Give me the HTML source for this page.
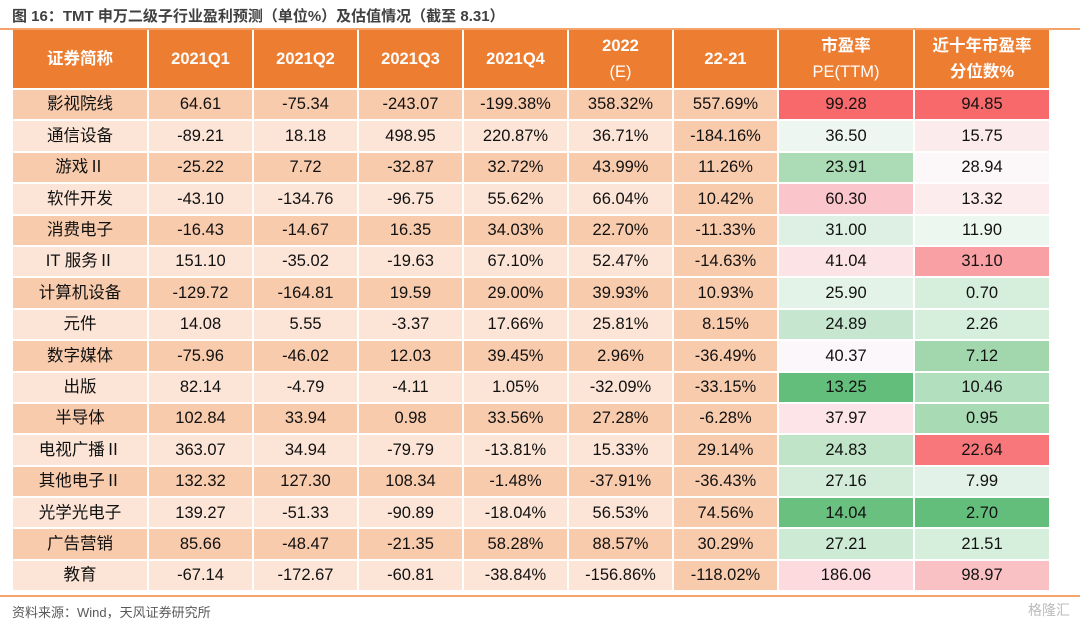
<!DOCTYPE html>
<html><head><meta charset="utf-8"><style>
body{margin:0;width:1080px;height:628px;background:#fff;overflow:hidden;font-family:"Liberation Sans","Noto Sans CJK SC",sans-serif;position:relative}
.title{position:absolute;left:12px;top:5px;font-size:15px;font-weight:bold;color:#404040}
.topline{position:absolute;left:0;top:28px;width:1080px;height:2px;background:#f4a46a}
.botline{position:absolute;left:0;top:595px;width:1080px;height:2px;background:#f4a46a}
.src{position:absolute;left:12px;top:602px;font-size:13px;color:#595959}
.wm{position:absolute;right:10px;top:600px;font-size:14px;color:#bbb}
#tbl{position:absolute;left:13px;top:30px;display:grid;grid-template-columns:134px repeat(6,103px) 134px 134px;grid-template-rows:58px repeat(16,29.4px);gap:2px;background:#fff}
.c{display:flex;align-items:center;justify-content:center;font-size:16.5px;color:#111;text-align:center;line-height:1}
.h{background:#ed7d31;color:#fff;font-weight:bold;font-size:16.5px;flex-direction:column;line-height:26px}
.h .n{font-weight:normal}
.d{background:#f8cbad}.l{background:#fce4d6}
</style></head><body>
<div class="title">图 16：TMT 申万二级子行业盈利预测（单位%）及估值情况（截至 8.31）</div>
<div class="topline"></div>
<div id="tbl">
<div class="c h">证券简称</div>
<div class="c h">2021Q1</div>
<div class="c h">2021Q2</div>
<div class="c h">2021Q3</div>
<div class="c h">2021Q4</div>
<div class="c h"><span>2022</span><span class="n">(E)</span></div>
<div class="c h">22-21</div>
<div class="c h"><span>市盈率</span><span class="n">PE(TTM)</span></div>
<div class="c h"><span>近十年市盈率</span><span>分位数%</span></div>
</div>
<div class="botline"></div>
<div class="src">资料来源：Wind，天风证券研究所</div>
<div class="wm">格隆汇</div>
<script>
const names=["影视院线","通信设备","游戏Ⅱ","软件开发","消费电子","IT 服务Ⅱ","计算机设备","元件","数字媒体","出版","半导体","电视广播Ⅱ","其他电子Ⅱ","光学光电子","广告营销","教育"];
const q1=["64.61","-89.21","-25.22","-43.10","-16.43","151.10","-129.72","14.08","-75.96","82.14","102.84","363.07","132.32","139.27","85.66","-67.14"];
const q2=["-75.34","18.18","7.72","-134.76","-14.67","-35.02","-164.81","5.55","-46.02","-4.79","33.94","34.94","127.30","-51.33","-48.47","-172.67"];
const q3=["-243.07","498.95","-32.87","-96.75","16.35","-19.63","19.59","-3.37","12.03","-4.11","0.98","-79.79","108.34","-90.89","-21.35","-60.81"];
const q4=["-199.38%","220.87%","32.72%","55.62%","34.03%","67.10%","29.00%","17.66%","39.45%","1.05%","33.56%","-13.81%","-1.48%","-18.04%","58.28%","-38.84%"];
const e22=["358.32%","36.71%","43.99%","66.04%","22.70%","52.47%","39.93%","25.81%","2.96%","-32.09%","27.28%","15.33%","-37.91%","56.53%","88.57%","-156.86%"];
const diff=["557.69%","-184.16%","11.26%","10.42%","-11.33%","-14.63%","10.93%","8.15%","-36.49%","-33.15%","-6.28%","29.14%","-36.43%","74.56%","30.29%","-118.02%"];
const pe=["99.28","36.50","23.91","60.30","31.00","41.04","25.90","24.89","40.37","13.25","37.97","24.83","27.16","14.04","27.21","186.06"];
const pct=["94.85","15.75","28.94","13.32","11.90","31.10","0.70","2.26","7.12","10.46","0.95","22.64","7.99","2.70","21.51","98.97"];
const peColors=["#f8696b","#eef6f1","#abdcb6","#fbc6cb","#ddf0e3","#fce4e6","#e3f3e8","#c6e6cf","#fcf7fb","#63be7b","#fde4e8","#bfe4c8","#d2ecd9","#69c07f","#cdead4","#fcdade"];
const pctColors=["#f8696b","#fcebed","#fcf7f9","#fcecee","#ecf7f0","#f9a0a4","#d6eedc","#d6eedc","#a2d7ae","#b2dfbe","#a8dab4","#f8777a","#e3f2e8","#63be7b","#d6eedc","#fac1c5"];
const tbl=document.getElementById('tbl');
const cols=[names,q1,q2,q3,q4,e22,diff];
const colKeys=["name","q1","q2","q3","q4","e2022","diff"];
for(let r=0;r<names.length;r++){
  const dark=r%2===0;
  cols.forEach((arr,ci)=>{
    const el=document.createElement('div');
    el.className='c '+((dark||ci===6)?'d':'l');
    el.textContent=arr[r];
    
    
    tbl.appendChild(el);
  });
  const p=document.createElement('div');
  p.className='c';p.style.background=peColors[r];p.textContent=pe[r];
  
  
  tbl.appendChild(p);
  const q=document.createElement('div');
  q.className='c';q.style.background=pctColors[r];q.textContent=pct[r];
  
  
  tbl.appendChild(q);
}
</script>
</body></html>
